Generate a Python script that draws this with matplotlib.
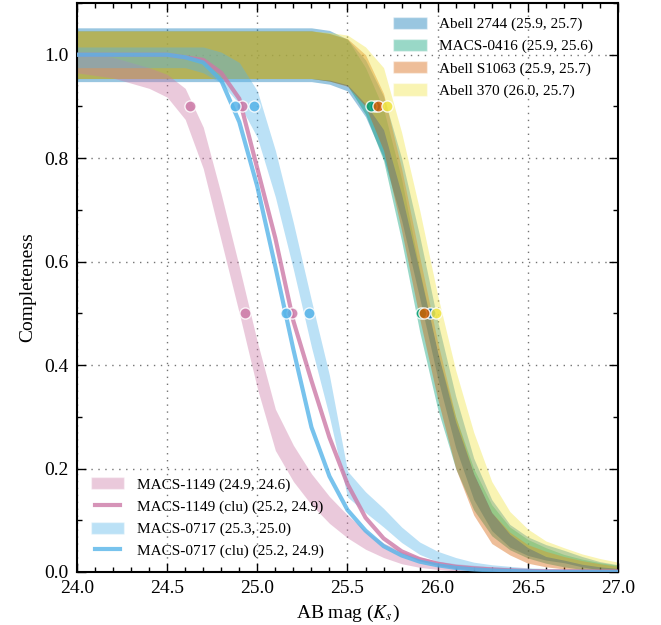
import numpy as np
import matplotlib
matplotlib.use("Agg")
import matplotlib.pyplot as plt
from matplotlib.patches import Patch
from matplotlib.lines import Line2D

plt.rcParams['font.family'] = ['Liberation Serif', 'DejaVu Serif']
plt.rcParams['mathtext.fontset'] = 'stix'
plt.rcParams['xtick.direction'] = 'in'
plt.rcParams['ytick.direction'] = 'in'
plt.rcParams['xtick.top'] = True
plt.rcParams['ytick.right'] = True

mag = [24.0, 24.1, 24.2, 24.3, 24.4, 24.5, 24.6, 24.7, 24.8, 24.9,
       25.0, 25.1, 25.2, 25.3, 25.4, 25.5, 25.6, 25.7, 25.8, 25.9,
       26.0, 26.1, 26.2, 26.3, 26.4, 26.5, 26.6, 26.7, 26.8, 26.9, 27.0]

# Abell clusters: completeness (centre) and band half-width
a2744 = [1.0, 1.0, 1.0, 1.0, 1.0, 1.0, 1.0, 1.0, 1.0, 1.0,
         1.0, 1.0, 1.0, 1.0, 0.995, 0.98, 0.935, 0.86, 0.74, 0.59,
         0.43, 0.29, 0.18, 0.11, 0.07, 0.05, 0.038, 0.03, 0.02, 0.012, 0.008]
a2744_err = [0.052, 0.052, 0.052, 0.052, 0.052, 0.052, 0.052, 0.052, 0.052, 0.052,
             0.052, 0.052, 0.052, 0.052, 0.052, 0.05, 0.055, 0.06, 0.06, 0.06,
             0.055, 0.05, 0.04, 0.03, 0.022, 0.018, 0.015, 0.012, 0.01, 0.008, 0.006]
m0416 = [1.0, 1.0, 1.0, 1.0, 1.0, 1.0, 1.0, 1.0, 1.0, 1.0,
         1.0, 1.0, 1.0, 1.0, 0.995, 0.985, 0.93, 0.845, 0.70, 0.525,
         0.37, 0.25, 0.16, 0.10, 0.065, 0.045, 0.032, 0.022, 0.015, 0.01, 0.007]
m0416_err = [0.046, 0.046, 0.046, 0.046, 0.046, 0.046, 0.046, 0.046, 0.046, 0.046,
             0.046, 0.046, 0.046, 0.046, 0.046, 0.045, 0.045, 0.05, 0.06, 0.06,
             0.055, 0.05, 0.04, 0.03, 0.022, 0.018, 0.015, 0.012, 0.01, 0.008, 0.006]
as1063 = [1.0, 1.0, 1.0, 1.0, 1.0, 1.0, 1.0, 1.0, 1.0, 1.0,
          1.0, 1.0, 1.0, 1.0, 0.995, 0.985, 0.95, 0.87, 0.72, 0.55,
          0.39, 0.25, 0.15, 0.085, 0.055, 0.035, 0.025, 0.018, 0.012, 0.008, 0.005]
as1063_err = [0.046, 0.046, 0.046, 0.046, 0.046, 0.046, 0.046, 0.046, 0.046, 0.046,
              0.046, 0.046, 0.046, 0.046, 0.046, 0.046, 0.05, 0.055, 0.06, 0.06,
              0.055, 0.05, 0.04, 0.03, 0.022, 0.018, 0.015, 0.012, 0.01, 0.008, 0.006]
a370 = [1.0, 1.0, 1.0, 1.0, 1.0, 1.0, 1.0, 1.0, 1.0, 1.0,
        1.0, 1.0, 1.0, 1.0, 0.997, 0.99, 0.96, 0.915, 0.79, 0.64,
        0.48, 0.34, 0.23, 0.145, 0.095, 0.065, 0.045, 0.035, 0.025, 0.018, 0.013]
a370_err = [0.046, 0.046, 0.046, 0.046, 0.046, 0.046, 0.046, 0.046, 0.046, 0.046,
            0.046, 0.046, 0.046, 0.046, 0.046, 0.048, 0.055, 0.06, 0.06, 0.06,
            0.055, 0.05, 0.04, 0.03, 0.022, 0.018, 0.015, 0.012, 0.01, 0.008, 0.006]

# MACS clusters
m1149 = [0.985, 0.98, 0.975, 0.965, 0.955, 0.94, 0.905, 0.82, 0.685, 0.545,
         0.40, 0.275, 0.21, 0.16, 0.12, 0.088, 0.062, 0.042, 0.028, 0.019,
         0.013, 0.009, 0.007, 0.005, 0.004, 0.003, 0.002, 0.002, 0.001, 0.001, 0.001]
m1149_err = [0.02, 0.02, 0.02, 0.02, 0.02, 0.022, 0.03, 0.04, 0.045, 0.045,
             0.045, 0.04, 0.035, 0.03, 0.026, 0.022, 0.018, 0.014, 0.012, 0.01,
             0.008, 0.007, 0.006, 0.005, 0.005, 0.004, 0.004, 0.004, 0.004, 0.004, 0.004]
m1149_clu = [1.0, 1.0, 1.0, 1.0, 1.0, 1.0, 0.995, 0.99, 0.965, 0.915,
             0.78, 0.645, 0.485, 0.37, 0.26, 0.17, 0.105, 0.065, 0.04, 0.025,
             0.016, 0.01, 0.007, 0.005, 0.003, 0.002, 0.001, 0.001, 0.001, 0.001, 0.001]
m0717 = [0.995, 0.995, 0.995, 0.995, 0.995, 0.995, 0.995, 0.99, 0.975, 0.945,
         0.885, 0.77, 0.63, 0.48, 0.34, 0.17, 0.135, 0.105, 0.072, 0.046,
         0.03, 0.02, 0.013, 0.009, 0.006, 0.004, 0.003, 0.002, 0.002, 0.001, 0.001]
m0717_err = [0.02, 0.02, 0.02, 0.02, 0.02, 0.02, 0.02, 0.025, 0.03, 0.04,
             0.045, 0.045, 0.045, 0.045, 0.04, 0.025, 0.02, 0.018, 0.015, 0.012,
             0.01, 0.008, 0.006, 0.005, 0.005, 0.004, 0.004, 0.004, 0.004, 0.004, 0.004]
m0717_clu = [1.0, 1.0, 1.0, 1.0, 1.0, 1.0, 0.995, 0.985, 0.95, 0.87,
             0.745, 0.59, 0.43, 0.28, 0.185, 0.12, 0.08, 0.05, 0.032, 0.02,
             0.013, 0.008, 0.005, 0.003, 0.002, 0.001, 0.0, 0.0, 0.0, 0.0, 0.0]

# 90% and 50% completeness magnitudes (markers)
names = ["Abell 2744", "MACS-0416", "Abell S1063", "Abell 370",
         "MACS-1149", "MACS-1149 (clu)", "MACS-0717", "MACS-0717 (clu)"]
mag90 = [25.655, 25.628, 25.67, 25.717, 24.628, 24.915, 24.983, 24.874]
mag50 = [25.956, 25.905, 25.924, 25.993, 24.93, 25.19, 25.285, 25.157]
labels = ["Abell 2744 (25.9, 25.7)", "MACS-0416 (25.9, 25.6)",
          "Abell S1063 (25.9, 25.7)", "Abell 370 (26.0, 25.7)",
          "MACS-1149 (24.9, 24.6)", "MACS-1149 (clu) (25.2, 24.9)",
          "MACS-0717 (25.3, 25.0)", "MACS-0717 (clu) (25.2, 24.9)"]
colors = ["#0072B2", "#009E73", "#D55E00", "#F0E442",
          "#CC79A7", "#CC79A7", "#56B4E9", "#56B4E9"]

fig = plt.figure(figsize=(6.61, 6.25), dpi=100)
ax = fig.add_axes([77/661, 53/625, 541/661, 569/625])

x = np.array(mag)
band_data = [(a2744, a2744_err), (m0416, m0416_err), (as1063, as1063_err), (a370, a370_err)]
handles_top = []
for i, (c, e) in enumerate(band_data):
    c = np.array(c); e = np.array(e)
    ax.fill_between(x, c - e, c + e, color=colors[i], alpha=0.4, lw=0, zorder=2)
    handles_top.append(Patch(facecolor=colors[i], alpha=0.4, edgecolor='white', lw=1))

# MACS bands and lines
ax.fill_between(x, np.array(m1149) - np.array(m1149_err), np.array(m1149) + np.array(m1149_err),
                color=colors[4], alpha=0.4, lw=0, zorder=2)
ax.plot(x, m1149_clu, color=colors[5], alpha=0.8, lw=3, zorder=3)
ax.fill_between(x, np.array(m0717) - np.array(m0717_err), np.array(m0717) + np.array(m0717_err),
                color=colors[6], alpha=0.4, lw=0, zorder=2)
ax.plot(x, m0717_clu, color=colors[7], alpha=0.8, lw=3, zorder=3)

for i in range(8):
    ax.plot([mag90[i], mag50[i]], [0.9, 0.5], 'o', ms=8, color=colors[i], alpha=0.85,
            mec='white', mew=1, zorder=4)

handles_bot = [Patch(facecolor=colors[4], alpha=0.4, edgecolor='white', lw=1),
               Line2D([], [], color=colors[5], alpha=0.8, lw=3),
               Patch(facecolor=colors[6], alpha=0.4, edgecolor='white', lw=1),
               Line2D([], [], color=colors[7], alpha=0.8, lw=3)]

leg1 = ax.legend(handles_top, labels[:4], loc='upper right', bbox_to_anchor=(1 - 11/541, 1.0),
                 frameon=False, fontsize=11, handlelength=2.2, handleheight=0.85, numpoints=2)
ax.add_artist(leg1)
ax.legend(handles_bot, labels[4:], loc='lower left', frameon=False, fontsize=11,
          handlelength=2.2, handleheight=0.85, numpoints=2)

ax.set_xlim(24.0, 27.0)
ax.set_ylim(0.0, 1.1)
ax.set_xticks([24.0, 24.5, 25.0, 25.5, 26.0, 26.5, 27.0])
ax.set_yticks([0.0, 0.2, 0.4, 0.6, 0.8, 1.0])
ax.set_xticks(np.arange(24.0, 27.01, 0.1), minor=True)
ax.set_yticks([0.1, 0.3, 0.5, 0.7, 0.9, 1.1], minor=True)
ax.xaxis.set_major_formatter(matplotlib.ticker.FormatStrFormatter('%.1f'))
ax.yaxis.set_major_formatter(matplotlib.ticker.FormatStrFormatter('%.1f'))
ax.tick_params(which='major', length=6.5, width=1, labelsize=14, pad=6)
ax.tick_params(which='minor', length=3.5, width=1)
ax.grid(True, which='major', color='0.45', ls=(0, (1, 4)), lw=1)
for s in ax.spines.values():
    s.set_linewidth(1.5)
ax.set_xlabel('AB mag ($K_s$)', fontsize=14)
ax.set_ylabel('Completeness', fontsize=14, labelpad=6)

fig.savefig('out.png', dpi=100)
